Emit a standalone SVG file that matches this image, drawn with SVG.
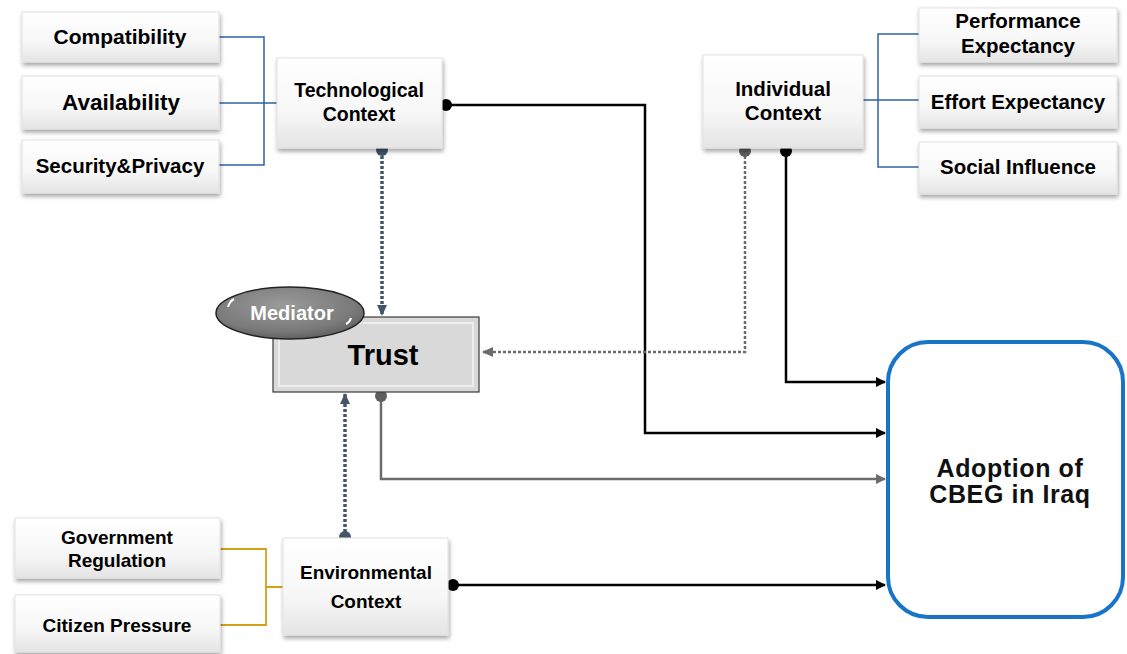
<svg xmlns="http://www.w3.org/2000/svg" width="1127" height="654" viewBox="0 0 1127 654">
<defs>
<linearGradient id="boxg" x1="0" y1="0" x2="0" y2="1">
<stop offset="0" stop-color="#ffffff"/>
<stop offset="0.6" stop-color="#f7f7f7"/>
<stop offset="1" stop-color="#e4e4e4"/>
</linearGradient>
<radialGradient id="medg" cx="0.45" cy="0.35" r="0.7">
<stop offset="0" stop-color="#9a9a9a"/>
<stop offset="0.7" stop-color="#7a7a7a"/>
<stop offset="1" stop-color="#5a5a5a"/>
</radialGradient>
<filter id="sh" x="-10%" y="-10%" width="125%" height="135%">
<feDropShadow dx="1" dy="3" stdDeviation="2" flood-color="#000" flood-opacity="0.35"/>
</filter>
<marker id="ab" markerWidth="10" markerHeight="10" refX="9" refY="5" orient="auto" markerUnits="userSpaceOnUse">
<path d="M0,0 L10,5 L0,10 z" fill="#000"/>
</marker>
<marker id="ag" markerWidth="10" markerHeight="10" refX="9" refY="5" orient="auto" markerUnits="userSpaceOnUse">
<path d="M0,0 L10,5 L0,10 z" fill="#6b6b6b"/>
</marker>
<marker id="an" markerWidth="12" markerHeight="10" refX="11" refY="5" orient="auto" markerUnits="userSpaceOnUse">
<path d="M0,0 L11,5 L0,10 z" fill="#44546a"/>
</marker>
<marker id="agd" markerWidth="12" markerHeight="10" refX="11" refY="5" orient="auto" markerUnits="userSpaceOnUse">
<path d="M0,0 L11,5 L0,10 z" fill="#6b6b6b"/>
</marker>
</defs>
<style>
.box{fill:url(#boxg);stroke:#e2e2e2;stroke-width:1;filter:url(#sh)}
.t{font-family:"Liberation Sans",Arial,sans-serif;font-weight:bold;fill:#000;text-anchor:middle}
.blue{fill:none;stroke:#2e63a6;stroke-width:1.5}
.gold{fill:none;stroke:#d4a017;stroke-width:1.8}
.blk{fill:none;stroke:#000;stroke-width:2.5}
.gry{fill:none;stroke:#6b6b6b;stroke-width:2.5}
.dotn{fill:none;stroke:#44546a;stroke-width:3.5;stroke-dasharray:3 2}
.dotg{fill:none;stroke:#6b6b6b;stroke-width:2.5;stroke-dasharray:3 2}
.lab{font-family:"Liberation Sans",Arial,sans-serif;font-weight:bold;fill:#111;text-anchor:middle}
</style>
<rect width="1127" height="654" fill="#fff"/>

<g id="connectors">
<path class="blue" d="M219,37 H264 V165 H219 M219,103 H277"/>
<path class="blue" d="M919,34 H878 V167 H919 M863,100 H919"/>
<path class="gold" d="M220,549 H266 V625 H220 M266,587 H283"/>
<path class="blk" d="M442,105 H645 V433 H885" marker-end="url(#ab)"/>
<circle cx="446" cy="105" r="6" fill="#000"/>
<path class="blk" d="M786,150 V382 H885" marker-end="url(#ab)"/>
<circle cx="786" cy="151" r="6" fill="#000"/>
<path class="gry" d="M381,392 V479 H885" marker-end="url(#ag)"/>
<circle cx="381" cy="396" r="6" fill="#5f5f5f"/>
<path class="blk" d="M452,585 H885" marker-end="url(#ab)"/>
<circle cx="453" cy="585" r="6" fill="#000"/>
<path class="dotn" d="M382,151 V316" marker-end="url(#an)"/>
<circle cx="382" cy="150" r="6" fill="#44546a"/>
<path class="dotn" d="M345,537 V393" marker-end="url(#an)"/>
<circle cx="345" cy="537" r="6" fill="#44546a"/>
<path class="dotg" d="M745,151 V352 H482" marker-end="url(#agd)"/>
<circle cx="745" cy="151" r="6" fill="#5f5f5f"/>
</g>

<g id="compatibility"><rect class="box" x="22" y="12" width="197" height="50"/><text class="t" style="font-size:21px" x="120" y="44">Compatibility</text></g>
<g id="availability"><rect class="box" x="22" y="76" width="197" height="53"/><text class="t" style="font-size:22.5px" x="121" y="110">Availability</text></g>
<g id="security"><rect class="box" x="22" y="140" width="197" height="53"/><text class="t" style="font-size:20.5px" x="120" y="173">Security&amp;Privacy</text></g>
<g id="technological"><rect class="box" x="277" y="58" width="165" height="90"/><text class="t" style="font-size:19.5px" x="359" y="97">Technological<tspan x="359" dy="24">Context</tspan></text></g>

<g id="individual"><rect class="box" x="703" y="55" width="160" height="93"/><text class="t" style="font-size:20.5px" x="783" y="96">Individual<tspan x="783" dy="24">Context</tspan></text></g>
<g id="performance"><rect class="box" x="919" y="8" width="198" height="54"/><text class="t" style="font-size:20.5px" x="1018" y="28">Performance<tspan x="1018" dy="25">Expectancy</tspan></text></g>
<g id="effort"><rect class="box" x="919" y="76" width="198" height="52"/><text class="t" style="font-size:20.5px" x="1018" y="109">Effort Expectancy</text></g>
<g id="social"><rect class="box" x="919" y="142" width="198" height="52"/><text class="t" style="font-size:20.5px" x="1018" y="174">Social Influence</text></g>

<g id="trust">
<rect x="273" y="317" width="206" height="75" fill="#d9d9d9" stroke="#3a3a3a" stroke-width="1.2"/>
<rect x="279" y="323" width="194" height="63" fill="none" stroke="#f2f2f2" stroke-width="2" opacity="0.8"/>
<text class="lab" x="383" y="365" style="font-size:29px;fill:#000">Trust</text>
</g>
<g id="mediator">
<ellipse cx="290" cy="313" rx="74" ry="26" fill="url(#medg)" stroke="#222" stroke-width="1.5"/>
<path d="M228,307 q2,-6 6,-8" stroke="#fff" stroke-width="2" fill="none"/>
<path d="M346,324 q4,-2 5,-6" stroke="#fff" stroke-width="2" fill="none"/>
<text class="t" x="292" y="320" style="font-size:20px;fill:#fff">Mediator</text>
</g>

<g id="government"><rect class="box" x="15" y="518" width="205" height="60"/><text class="t" style="font-size:19px" x="117" y="544">Government<tspan x="117" dy="23">Regulation</tspan></text></g>
<g id="citizen"><rect class="box" x="15" y="595" width="205" height="57"/><text class="t" style="font-size:19px" x="117" y="632">Citizen Pressure</text></g>
<g id="environmental"><rect class="box" x="283" y="538" width="165" height="97"/><text class="t" style="font-size:19px" x="366" y="579">Environmental<tspan x="366" dy="29">Context</tspan></text></g>

<g id="adoption">
<rect x="888" y="342" width="235" height="275" rx="40" ry="40" fill="#fff" stroke="#1874c8" stroke-width="4"/>
<text class="lab" x="1010" y="477" style="font-size:25px;letter-spacing:0.6px">Adoption of<tspan x="1010" dy="26">CBEG in Iraq</tspan></text>
</g>
</svg>
